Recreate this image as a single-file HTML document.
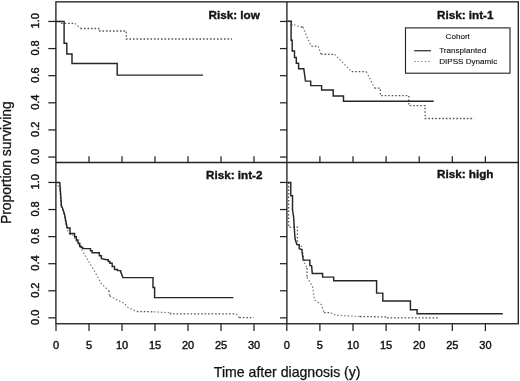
<!DOCTYPE html>
<html><head><meta charset="utf-8"><title>Survival by risk group</title>
<style>
html,body{margin:0;padding:0;background:#fff;}
body{width:520px;height:381px;overflow:hidden;font-family:"Liberation Sans",sans-serif;}
svg{display:block;will-change:transform;}
text{font-family:"Liberation Sans",sans-serif;fill:#111;stroke:#111;stroke-width:0.25px;}
.ax{stroke:#222;stroke-width:1.35;fill:none;}
.tk{stroke:#222;stroke-width:1.25;fill:none;}
.so{stroke:#262626;stroke-width:1.45;fill:none;stroke-linejoin:miter;}
.do{stroke:#555;stroke-width:1.3;fill:none;stroke-dasharray:1.6 1.9;}
.dd{stroke:#707070;stroke-width:1.15;fill:none;stroke-dasharray:1.5 2;}
.tl{font-size:11px;text-anchor:middle;stroke-width:0.4px;}
.ti{font-size:11.7px;font-weight:bold;text-anchor:middle;stroke-width:0.35px;}
.lb{font-size:14.1px;text-anchor:middle;}
.lg{font-size:8.1px;stroke-width:0.12px;}
</style></head><body>
<svg width="520" height="381" viewBox="0 0 520 381">
<rect x="0" y="0" width="520" height="381" fill="#fff"/>

<rect class="ax" x="55.9" y="1.85" width="462.4" height="321.9"/>
<line class="ax" x1="286.9" y1="1.85" x2="286.9" y2="323.75"/>
<line class="ax" x1="55.9" y1="162.5" x2="518.3" y2="162.5"/>
<line class="tk" x1="48.3" y1="157.05" x2="55.9" y2="157.05"/>
<line class="tk" x1="280" y1="157.05" x2="286.9" y2="157.05"/>
<text class="tl" transform="translate(39,156.45) rotate(-90)">0.0</text>
<line class="tk" x1="48.3" y1="129.93" x2="55.9" y2="129.93"/>
<line class="tk" x1="280" y1="129.93" x2="286.9" y2="129.93"/>
<text class="tl" transform="translate(39,129.33) rotate(-90)">0.2</text>
<line class="tk" x1="48.3" y1="102.81" x2="55.9" y2="102.81"/>
<line class="tk" x1="280" y1="102.81" x2="286.9" y2="102.81"/>
<text class="tl" transform="translate(39,102.21) rotate(-90)">0.4</text>
<line class="tk" x1="48.3" y1="75.69" x2="55.9" y2="75.69"/>
<line class="tk" x1="280" y1="75.69" x2="286.9" y2="75.69"/>
<text class="tl" transform="translate(39,75.09) rotate(-90)">0.6</text>
<line class="tk" x1="48.3" y1="48.57" x2="55.9" y2="48.57"/>
<line class="tk" x1="280" y1="48.57" x2="286.9" y2="48.57"/>
<text class="tl" transform="translate(39,47.97) rotate(-90)">0.8</text>
<line class="tk" x1="48.3" y1="21.45" x2="55.9" y2="21.45"/>
<line class="tk" x1="280" y1="21.45" x2="286.9" y2="21.45"/>
<text class="tl" transform="translate(39,20.85) rotate(-90)">1.0</text>
<line class="tk" x1="48.3" y1="317.85" x2="55.9" y2="317.85"/>
<line class="tk" x1="280" y1="317.85" x2="286.9" y2="317.85"/>
<text class="tl" transform="translate(39,317.25) rotate(-90)">0.0</text>
<line class="tk" x1="48.3" y1="290.77" x2="55.9" y2="290.77"/>
<line class="tk" x1="280" y1="290.77" x2="286.9" y2="290.77"/>
<text class="tl" transform="translate(39,290.17) rotate(-90)">0.2</text>
<line class="tk" x1="48.3" y1="263.69" x2="55.9" y2="263.69"/>
<line class="tk" x1="280" y1="263.69" x2="286.9" y2="263.69"/>
<text class="tl" transform="translate(39,263.09) rotate(-90)">0.4</text>
<line class="tk" x1="48.3" y1="236.61" x2="55.9" y2="236.61"/>
<line class="tk" x1="280" y1="236.61" x2="286.9" y2="236.61"/>
<text class="tl" transform="translate(39,236.01) rotate(-90)">0.6</text>
<line class="tk" x1="48.3" y1="209.53" x2="55.9" y2="209.53"/>
<line class="tk" x1="280" y1="209.53" x2="286.9" y2="209.53"/>
<text class="tl" transform="translate(39,208.93) rotate(-90)">0.8</text>
<line class="tk" x1="48.3" y1="182.45" x2="55.9" y2="182.45"/>
<line class="tk" x1="280" y1="182.45" x2="286.9" y2="182.45"/>
<text class="tl" transform="translate(39,181.85) rotate(-90)">1.0</text>
<line class="tk" x1="56.00" y1="323.75" x2="56.00" y2="331.1"/>
<text class="tl" x="56.00" y="349">0</text>
<line class="tk" x1="89.00" y1="323.75" x2="89.00" y2="331.1"/>
<line class="tk" x1="89.00" y1="156.3" x2="89.00" y2="162.5"/>
<text class="tl" x="89.00" y="349">5</text>
<line class="tk" x1="122.00" y1="323.75" x2="122.00" y2="331.1"/>
<line class="tk" x1="122.00" y1="156.3" x2="122.00" y2="162.5"/>
<text class="tl" x="122.00" y="349">10</text>
<line class="tk" x1="155.00" y1="323.75" x2="155.00" y2="331.1"/>
<line class="tk" x1="155.00" y1="156.3" x2="155.00" y2="162.5"/>
<text class="tl" x="155.00" y="349">15</text>
<line class="tk" x1="188.00" y1="323.75" x2="188.00" y2="331.1"/>
<line class="tk" x1="188.00" y1="156.3" x2="188.00" y2="162.5"/>
<text class="tl" x="188.00" y="349">20</text>
<line class="tk" x1="221.00" y1="323.75" x2="221.00" y2="331.1"/>
<line class="tk" x1="221.00" y1="156.3" x2="221.00" y2="162.5"/>
<text class="tl" x="221.00" y="349">25</text>
<line class="tk" x1="254.00" y1="323.75" x2="254.00" y2="331.1"/>
<line class="tk" x1="254.00" y1="156.3" x2="254.00" y2="162.5"/>
<text class="tl" x="254.00" y="349">30</text>
<line class="tk" x1="286.80" y1="323.75" x2="286.80" y2="331.1"/>
<text class="tl" x="286.80" y="349">0</text>
<line class="tk" x1="319.90" y1="323.75" x2="319.90" y2="331.1"/>
<line class="tk" x1="319.90" y1="156.3" x2="319.90" y2="162.5"/>
<text class="tl" x="319.90" y="349">5</text>
<line class="tk" x1="353.00" y1="323.75" x2="353.00" y2="331.1"/>
<line class="tk" x1="353.00" y1="156.3" x2="353.00" y2="162.5"/>
<text class="tl" x="353.00" y="349">10</text>
<line class="tk" x1="386.10" y1="323.75" x2="386.10" y2="331.1"/>
<line class="tk" x1="386.10" y1="156.3" x2="386.10" y2="162.5"/>
<text class="tl" x="386.10" y="349">15</text>
<line class="tk" x1="419.20" y1="323.75" x2="419.20" y2="331.1"/>
<line class="tk" x1="419.20" y1="156.3" x2="419.20" y2="162.5"/>
<text class="tl" x="419.20" y="349">20</text>
<line class="tk" x1="452.30" y1="323.75" x2="452.30" y2="331.1"/>
<line class="tk" x1="452.30" y1="156.3" x2="452.30" y2="162.5"/>
<text class="tl" x="452.30" y="349">25</text>
<line class="tk" x1="485.40" y1="323.75" x2="485.40" y2="331.1"/>
<line class="tk" x1="485.40" y1="156.3" x2="485.40" y2="162.5"/>
<text class="tl" x="485.40" y="349">30</text>
<polyline class="do" points="55.9,21.5 60.5,21.5 60.5,23.3 75.0,23.3"/>
<polyline class="dd" points="75.0,23.3 80.5,28.5"/>
<polyline class="do" points="80.5,28.5 98.7,28.5 98.7,31.0 126.3,31.0 126.3,39.0 232.0,39.0"/>
<polyline class="so" points="55.9,21.5 64.1,21.5 64.1,43.2 66.8,43.2 66.8,53.9 72.0,53.9 72.0,63.4 117.2,63.4 117.2,75.1 203.0,75.1"/>
<polyline class="do" points="287.4,21.3 291.5,21.3 291.5,24.8 294.0,24.8"/>
<polyline class="dd" points="294.0,24.8 297.5,26.0 301.0,27.0"/>
<polyline class="do" points="301.0,27.0 303.0,27.0"/>
<polyline class="dd" points="303.0,27.0 307.8,39.2 311.3,46.2"/>
<polyline class="do" points="311.3,46.2 318.2,46.2"/>
<polyline class="dd" points="318.2,46.2 321.0,54.2"/>
<polyline class="do" points="321.0,54.2 334.7,54.4"/>
<polyline class="dd" points="334.7,54.4 351.7,71.7"/>
<polyline class="do" points="351.7,71.7 366.4,71.7"/>
<polyline class="dd" points="366.4,71.7 374.6,88.2"/>
<polyline class="do" points="374.6,88.2 380.4,88.2 380.4,95.6 408.8,95.6 408.8,105.6 425.1,105.6 425.1,118.5 474.0,118.5"/>
<polyline class="so" points="287.4,21.3 291.1,21.3 291.1,40.2 292.2,40.2 292.2,51.0 294.5,51.0 294.5,57.5 296.3,57.5 296.3,63.3 298.6,63.3 298.6,68.8 303.8,68.8 305.5,81.1 310.7,81.1 310.7,85.6 321.6,85.6 321.6,90.0 333.2,90.0 333.2,96.0 343.5,96.0 343.5,101.2 433.7,101.2"/>
<polyline class="dd" points="55.9,182.5 57.0,183.5 60.2,190.0"/>
<polyline class="do" points="60.2,190.0 61.0,206.4"/>
<polyline class="dd" points="61.0,206.4 62.0,208.3 64.1,215.0 65.9,224.5 66.8,228.5 69.5,234.0"/>
<polyline class="do" points="69.5,234.0 72.5,234.5"/>
<polyline class="dd" points="72.5,234.5 79.7,246.5 95.0,272.0 101.2,283.7 108.9,290.6"/>
<polyline class="do" points="108.9,290.6 109.7,296.0"/>
<polyline class="dd" points="109.7,296.0 124.4,303.5 128.3,307.7 136.8,311.5"/>
<polyline class="do" points="136.8,311.5 153.8,311.8"/>
<polyline class="dd" points="153.8,311.8 170.6,312.8"/>
<polyline class="do" points="170.6,312.8 170.6,313.8 236.2,313.8"/>
<polyline class="dd" points="236.2,313.8 239.3,317.7"/>
<polyline class="do" points="239.3,317.7 253.7,317.7"/>
<polyline class="so" points="55.9,182.5 59.8,182.5 61.5,206.2 62.5,208.0 64.6,214.5 66.4,224.0 67.3,228.0 70.0,228.0 70.0,233.5 72.9,233.5 74.6,233.5 74.6,236.7 76.3,236.7 76.3,239.9 78.0,239.9 78.0,243.1 79.7,243.1 79.7,246.3 81.2,246.3 81.2,247.4 82.8,247.4 82.8,248.6 89.0,248.6 90.5,248.6 90.5,250.7 92.1,250.7 92.1,252.8 97.2,252.8 99.3,252.8 99.3,255.7 101.4,255.7 101.4,258.6 106.8,259.7 108.3,259.7 108.3,261.5 109.9,261.5 109.9,263.3 112.2,263.3 112.2,266.4 114.5,266.4 114.5,269.5 117.6,269.5 117.6,270.6 120.7,270.6 120.7,271.8 122.9,277.6 153.0,277.6 153.0,287.5 154.6,287.5 154.6,297.6 233.4,297.6"/>
<polyline class="do" points="288.6,182.5 288.6,227.1 297.4,227.1 297.4,244.6"/>
<polyline class="dd" points="297.4,244.6 301.6,246.5 304.7,263.2 307.0,267.9"/>
<polyline class="do" points="307.0,267.9 307.0,277.4"/>
<polyline class="dd" points="307.0,277.4 312.5,286.3 314.4,299.8 321.2,304.6 324.0,312.7"/>
<polyline class="do" points="324.0,312.7 330.8,312.7"/>
<polyline class="dd" points="330.8,312.7 335.6,315.2 360.0,316.5"/>
<polyline class="do" points="360.0,316.5 387.3,317.0 387.3,317.9 439.4,317.9"/>
<polyline class="so" points="287.4,182.5 290.8,182.5 290.8,195.8 292.5,195.8 292.5,210.0 293.6,216.9 295.0,238.5 296.8,244.6 299.2,244.6 299.2,248.7 301.8,249.6 303.2,260.1 309.8,260.1 309.9,265.6 311.6,265.6 312.3,273.4 322.6,273.4 322.6,277.1 333.7,277.1 333.7,280.8 376.6,280.8 376.6,293.1 382.8,293.1 382.8,301.0 410.4,301.0 410.4,309.8 417.1,309.8 417.1,313.7 502.8,313.7"/>
<text class="ti" x="234.2" y="18.5">Risk: low</text>
<text class="ti" x="465.25" y="18.7">Risk: int-1</text>
<text class="ti" x="234.2" y="178.7">Risk: int-2</text>
<text class="ti" x="465.25" y="178.2">Risk: high</text>
<text class="lb" x="287.2" y="376.8">Time after diagnosis (y)</text>
<text class="lb" style="font-size:13.9px" transform="translate(11.4,162.7) rotate(-90)">Proportion surviving</text>
<rect x="405.5" y="27.9" width="104.5" height="45.3" fill="#fff" stroke="#1f1f1f" stroke-width="1.1"/>
<text class="lg" x="457.7" y="38.8" text-anchor="middle">Cohort</text>
<line class="so" style="stroke-width:1.2" x1="414.2" y1="50.75" x2="431" y2="50.75"/>
<line class="do" style="stroke:#8a8a8a;stroke-width:1.1" x1="414.2" y1="61.5" x2="431" y2="61.5"/>
<text class="lg" x="439.2" y="53.3">Transplanted</text>
<text class="lg" x="439.2" y="64.3">DIPSS Dynamic</text>
</svg></body></html>
